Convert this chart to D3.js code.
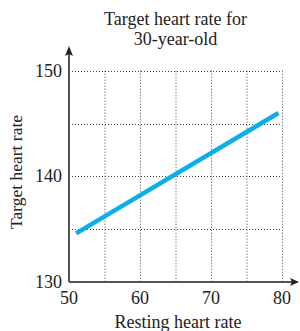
<!DOCTYPE html>
<html><head><meta charset="utf-8">
<script src="https://cdn.jsdelivr.net/npm/d3@7"></script>
<style>body{margin:0;background:#fff}svg{display:block}text{font-family:"Liberation Serif","Times New Roman",serif;fill:#222}</style>
</head><body>
<script>
const restingRate = [51, 79.5];
const targetRate = [134.6, 146];
const xTicks = [50, 60, 70, 80];
const yTicks = [130, 140, 150];
const xGrid = [55, 60, 65, 70, 75, 80];
const yGrid = [135, 140, 145, 150];
const titleLines = ["Target heart rate for", "30-year-old"];

const W = 300, H = 331;
const svg = d3.select("body").append("svg").attr("width", W).attr("height", H);
const x = d3.scaleLinear().domain([50, 80]).range([69, 282]);
const y = d3.scaleLinear().domain([130, 150]).range([282, 70.7]);

const grid = svg.append("g").attr("stroke", "#444").attr("stroke-width", 1).attr("stroke-dasharray", "1,2");
grid.selectAll(".v").data(xGrid).enter().append("line")
  .attr("x1", d => x(d) + 0.5).attr("x2", d => x(d) + 0.5).attr("y1", y(150)).attr("y2", y(130));
grid.selectAll(".h").data(yGrid).enter().append("line")
  .attr("y1", d => Math.round(y(d)) + 0.5).attr("y2", d => Math.round(y(d)) + 0.5).attr("x1", x(50)).attr("x2", x(80));

// line
const pts = restingRate.map((r, i) => [r, targetRate[i]]);
svg.append("path").datum(pts)
  .attr("d", d3.line().x(d => x(d[0])).y(d => y(d[1])))
  .attr("fill", "none").attr("stroke", "#0aaee8").attr("stroke-width", 4.5);

// axes
const ax = "#555";
svg.append("line").attr("x1", x(50)).attr("x2", 294).attr("y1", y(130)).attr("y2", y(130)).attr("stroke", ax).attr("stroke-width", 2);
svg.append("path").attr("d", `M299,${y(130)} L290,${y(130)-4} L292,${y(130)} L290,${y(130)+4} Z`).attr("fill", "#222");
svg.append("line").attr("x1", x(50)).attr("x2", x(50)).attr("y1", y(130)).attr("y2", 53).attr("stroke", ax).attr("stroke-width", 2);
svg.append("path").attr("d", `M${x(50)},46 L${x(50)-4},56 L${x(50)},54 L${x(50)+4},56 Z`).attr("fill", "#222");

// tick labels
svg.selectAll(".xt").data(xTicks).enter().append("text")
  .attr("x", d => x(d)).attr("y", 304).attr("text-anchor", "middle").attr("font-size", 18).text(d => d);
svg.selectAll(".yt").data(yTicks).enter().append("text")
  .attr("x", 62).attr("y", d => y(d) + 6).attr("text-anchor", "end").attr("font-size", 18).text(d => d);

// titles
svg.selectAll(".title").data(titleLines).enter().append("text")
  .attr("x", 175.5).attr("y", (d, i) => 25 + i * 19.5).attr("text-anchor", "middle").attr("font-size", 18).text(d => d);
svg.append("text").attr("x", 178).attr("y", 328).attr("text-anchor", "middle").attr("font-size", 18).text("Resting heart rate");
svg.append("text").attr("transform", "translate(22,172) rotate(-90)").attr("text-anchor", "middle").attr("font-size", 17.5).text("Target heart rate");
</script>
</body></html>
